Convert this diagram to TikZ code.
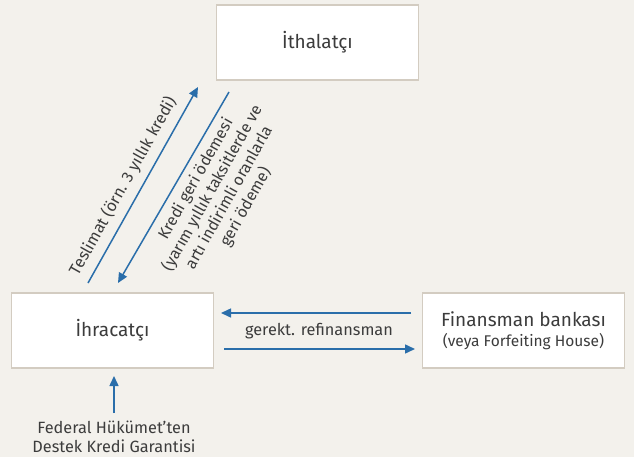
\documentclass[tikz,border=0pt]{standalone}
\usepackage{fontspec}
\setmainfont{Fira Sans}
\usetikzlibrary{arrows.meta}
\definecolor{bg}{HTML}{F3F1EC}
\definecolor{bordc}{HTML}{D3CCC1}
\definecolor{arr}{HTML}{2A6EAA}
\definecolor{txt}{HTML}{3C3C3C}
\tikzset{
  box/.style={draw=bordc, line width=1.8pt, fill=white, minimum width=202pt, minimum height=75pt, text=txt, font=\fontsize{19}{22}\selectfont, align=center, inner sep=0pt},
  flow/.style={draw=arr, line width=1.5pt, -{Triangle[length=10pt,width=9pt]}},
  lab/.style={text=txt, font=\fontsize{16.3}{19}\selectfont, align=center, inner sep=0pt}
}
\begin{document}
\begin{tikzpicture}[x=1pt,y=-1pt]
\fill[bg] (0,0) rectangle (634,457);
\useasboundingbox (0,0) rectangle (634,457);
\node[box] (imp) at (317.5,42.5) {İthalatçı};
\node[box] (exp) at (112.5,330.5) {İhracatçı};
\node[box] (fin) at (523.5,330.5) {Finansman bankası\\[-2pt]{\fontsize{15.5}{17}\selectfont (veya Forfeiting House)}};
\coordinate (a1s) at (88,283);
\coordinate (a1e) at (198,87);
\coordinate (a2s) at (229,92);
\coordinate (a2e) at (118,283);
\draw[flow] (a1s) -- (a1e);
\draw[flow] (a2s) -- (a2e);
\node[lab, rotate=60.7] (l1) at (123,186) {Teslimat (örn. 3 yıllık kredi)};
\node[lab, rotate=60.7, font=\fontsize{16}{19}\selectfont] (l2) at (221,193) {Kredi geri ödemesi\\(yarım yıllık taksitlerde ve\\artı indirimli oranlarla\\geri ödeme)};
\coordinate (b1s) at (411,313);
\coordinate (b1e) at (221,313);
\coordinate (b2s) at (224,349);
\coordinate (b2e) at (415,349);
\draw[flow] (b1s) -- (b1e);
\draw[flow] (b2s) -- (b2e);
\node[lab] (l3) at (319,331) {gerekt. refinansman};
\node[lab, font=\fontsize{16.3}{19}\selectfont] (fed) at (114,437) {Federal Hükümet’ten\\Destek Kredi Garantisi};
\coordinate (c1s) at (114,413);
\coordinate (c1e) at (114,376);
\draw[flow] (c1s) -- (c1e);
\end{tikzpicture}
\end{document}
